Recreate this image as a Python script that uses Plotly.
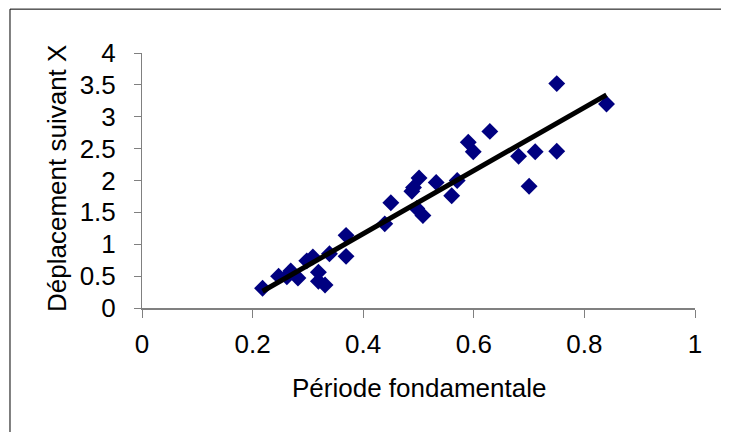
import numpy as np
import plotly.graph_objects as go

periode = [0.218, 0.247, 0.262, 0.269, 0.282, 0.298, 0.309, 0.319, 0.319, 0.331, 0.339,
           0.369, 0.369, 0.439, 0.450, 0.488, 0.491, 0.501, 0.497, 0.508, 0.532, 0.560,
           0.570, 0.590, 0.599, 0.629, 0.681, 0.700, 0.711, 0.750, 0.750, 0.840]
deplacement = [0.31, 0.50, 0.49, 0.58, 0.47, 0.74, 0.80, 0.56, 0.42, 0.36, 0.85,
               1.14, 0.81, 1.32, 1.65, 1.83, 1.89, 2.04, 1.56, 1.45, 1.97, 1.76,
               2.00, 2.60, 2.45, 2.77, 2.38, 1.91, 2.45, 3.52, 2.46, 3.20]
x_ticks = [0, 0.2, 0.4, 0.6, 0.8, 1]
x_tick_labels = ["0", "0.2", "0.4", "0.6", "0.8", "1"]
y_ticks = [0, 0.5, 1, 1.5, 2, 2.5, 3, 3.5, 4]
y_tick_labels = ["0", "0.5", "1", "1.5", "2", "2.5", "3", "3.5", "4"]
x_title = "Période fondamentale"
y_title = "Déplacement suivant X"
r2_label = "R<sup>2</sup> = 0,90"

xa = np.array(periode)
ya = np.array(deplacement)
slope, intercept = np.polyfit(xa, ya, 1)
xl = np.array([xa.min(), xa.max()])
yl = slope * xl + intercept

FONT = "Liberation Sans, Arial, sans-serif"
FS = 26

fig = go.Figure()
fig.add_trace(go.Scatter(
    x=periode, y=deplacement, mode="markers",
    marker=dict(symbol="diamond", size=13, color="#000080", line=dict(width=0)),
    showlegend=False, cliponaxis=False))
fig.add_trace(go.Scatter(
    x=xl, y=yl, mode="lines", line=dict(color="black", width=5),
    showlegend=False, cliponaxis=False))

fig.add_annotation(x=0.633, y=4.05, xref="x", yref="y", text=r2_label,
                   showarrow=False, font=dict(family=FONT, size=FS, color="black"),
                   xanchor="center", yanchor="middle")
fig.add_annotation(x=0.501, y=-0.314, xref="paper", yref="paper", text=x_title,
                   showarrow=False, font=dict(family=FONT, size=FS, color="black"),
                   xanchor="center", yanchor="middle")
fig.add_annotation(x=-0.1537, y=0.506, xref="paper", yref="paper", text=y_title,
                   textangle=-90, showarrow=False,
                   font=dict(family=FONT, size=FS, color="black"),
                   xanchor="center", yanchor="middle")

border = dict(color="black", width=1)
fig.add_shape(type="line", xref="paper", yref="paper", x0=-0.2387, x1=1.0579, y0=1.172, y1=1.172, line=border)
fig.add_shape(type="line", xref="paper", yref="paper", x0=-0.2387, x1=-0.2387, y0=1.172, y1=-0.55, line=border)
fig.add_shape(type="line", xref="paper", yref="paper", x0=1.0579, x1=1.0579, y0=1.172, y1=-0.55, line=border)

fig.update_layout(
    width=721, height=424,
    margin=dict(l=134, r=34, t=45, b=124, autoexpand=False),
    paper_bgcolor="white", plot_bgcolor="white",
    font=dict(family=FONT, size=FS, color="black"),
    xaxis=dict(range=[0, 1], tickvals=x_ticks, ticktext=x_tick_labels,
               showgrid=False, zeroline=False, showline=True, linecolor="#808080", linewidth=2,
               ticks="outside", ticklen=8, tickcolor="#808080", tickwidth=1,
               ticklabelstandoff=4, tickfont=dict(size=FS)),
    yaxis=dict(range=[0, 4], tickvals=y_ticks, ticktext=y_tick_labels,
               showgrid=False, zeroline=False, showline=True, linecolor="#808080", linewidth=1,
               ticks="outside", ticklen=7, tickcolor="#808080", tickwidth=1,
               ticklabelstandoff=13, tickfont=dict(size=FS)),
)

fig.write_html("out.html")
